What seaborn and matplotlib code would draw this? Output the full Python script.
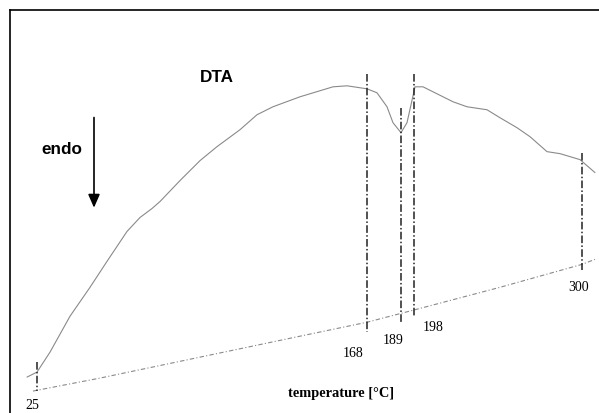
import numpy as np
import pandas as pd
import matplotlib
matplotlib.use("Agg")
import matplotlib.pyplot as plt
import seaborn as sns

# DTA trace (time axis in arbitrary units, signal downward = endo)
dta_x = [27, 37, 50, 70, 90, 107, 127, 140, 152, 160, 180, 200, 217, 240, 257, 273,
         300, 333, 347, 367, 377, 387, 393, 401, 407, 415, 423, 433, 453, 467, 487,
         500, 517, 530, 547, 560, 580, 595]
dta_y = [378, 373, 353, 317, 288, 262, 232, 218, 209, 202, 181, 161, 147, 130, 115, 107,
         97, 87, 86, 89, 93, 107, 123, 133, 123, 87, 87, 92, 102, 107, 110,
         118, 128, 137, 152, 154, 160, 173]

# baseline
base_x = [33, 100, 200, 300, 367, 413, 500, 582, 595]
base_y = [392, 379, 358, 337, 323, 311, 288, 265, 260]

# marked temperatures
temp_labels = ["25", "168", "189", "198", "300"]
mark_x = [37, 367, 401, 414, 582]
mark_top = [363, 74, 108, 74, 153]
mark_bot = [392, 333, 325, 317, 271]
label_x = [32, 353, 393, 433, 579]
label_y = [405, 353, 340, 327, 287]


def main():
    sns.set_style("white")
    fig = plt.figure(figsize=(5.99, 4.14), dpi=100)
    ax = fig.add_axes([10 / 599, 0, 589 / 599, 403 / 414])

    df = pd.DataFrame({"t": dta_x, "signal": dta_y})
    bl = pd.DataFrame({"t": base_x, "signal": base_y})

    sns.lineplot(data=df, x="t", y="signal", ax=ax, color="#8a8a8a", linewidth=0.8,
                 sort=False, estimator=None)
    sns.lineplot(data=bl, x="t", y="signal", ax=ax, color="#8a8a8a", linewidth=0.8,
                 sort=False, estimator=None, linestyle=(0, (4, 2, 1, 2)))

    for x, y0, y1 in zip(mark_x, mark_top, mark_bot):
        ax.plot([x, x], [y0, y1], color="#222222", linewidth=1.1,
                linestyle=(0, (5, 1.5, 1, 1.5)))

    for lab, x, y in zip(temp_labels, label_x, label_y):
        ax.text(x, y, lab, ha="center", va="center", fontsize=10, color="black",
                family="Liberation Serif")

    ax.text(217, 77, "DTA", ha="center", va="center", fontsize=12.3, fontweight="bold",
            color="black", family="Liberation Sans")
    ax.text(62, 149, "endo", ha="center", va="center", fontsize=12.3, fontweight="bold",
            color="black", family="Liberation Sans")
    ax.annotate("", xy=(94, 211), xytext=(94, 115),
                arrowprops=dict(arrowstyle="-|>,head_width=0.35,head_length=0.8",
                                color="black", lw=1.2))
    ax.text(341, 393, "temperature [°C]", ha="center", va="center", fontsize=10.4,
            fontweight="bold", color="black", family="Liberation Serif")

    ax.set_xlim(10, 599)
    ax.set_ylim(414, 10)
    ax.set_xticks([])
    ax.set_yticks([])
    ax.set_xlabel("")
    ax.set_ylabel("")
    for side in ["right", "bottom"]:
        ax.spines[side].set_visible(False)
    for side in ["left", "top"]:
        ax.spines[side].set_color("black")
        ax.spines[side].set_linewidth(1.2)

    fig.savefig("out.png", dpi=100)


if __name__ == "__main__":
    main()
